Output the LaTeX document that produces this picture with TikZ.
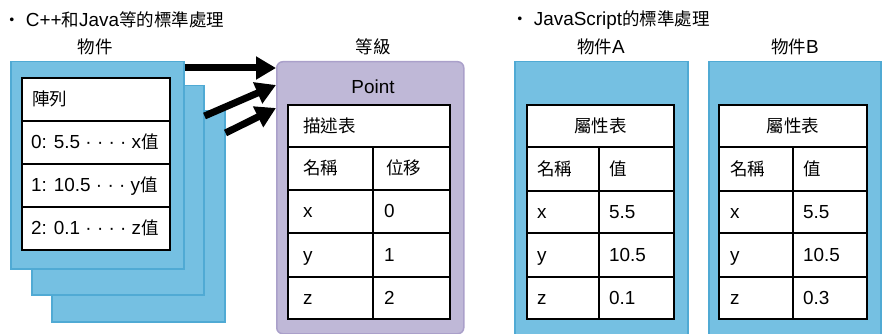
\documentclass[tikz,border=0pt]{standalone}
\usepackage{fontspec}
\setmainfont{Liberation Sans}[Scale=1.08]
\newfontfamily\cjk{Noto Sans CJK TC}
\usetikzlibrary{arrows.meta}

\definecolor{objblue}{RGB}{117,192,226}
\definecolor{objedge}{RGB}{80,170,212}
\definecolor{clsfill}{RGB}{191,184,215}
\definecolor{clsedge}{RGB}{170,160,202}

\tikzset{
	objbox/.style={draw=objedge,fill=objblue,line width=1.5pt,anchor=north west,inner sep=0pt},
	clsbox/.style={draw=clsedge,fill=clsfill,line width=1.5pt,rounded corners=6pt,anchor=north west,inner sep=0pt},
	grid/.style={draw=black,line width=1.2pt},
	txt/.style={anchor=west,inner sep=0pt,text height=13pt,text depth=1pt,font=\fontsize{17.5}{17.5}\selectfont},
	lbl/.style={inner sep=0pt,text height=13pt,text depth=1pt,font=\fontsize{17.5}{17.5}\selectfont},
	hdr/.style={anchor=west,inner sep=0pt,font=\fontsize{17.5}{17.5}\selectfont},
	bigarrow/.style={line width=7pt,-{Triangle[length=20pt,width=22pt]}}
}

\begin{document}
\begin{tikzpicture}[x=1pt,y=-1pt]
	\useasboundingbox (0,0) rectangle (885,334);
	
	\node[hdr] (hdrL) at (3,20) {{\cjk ・} C++{\cjk 和}Java{\cjk 等的標準處理}};
	\node[hdr] (hdrR) at (511,20) {{\cjk ・} JavaScript{\cjk 的標準處理}};
	
	\node[lbl] (lblobj) at (95,48) {{\cjk 物件}};
	\node[lbl] (lblcls) at (373,48) {{\cjk 等級}};
	\node[lbl] (lblA) at (601,48) {{\cjk 物件}A};
	\node[lbl] (lblB) at (795,48) {{\cjk 物件}B};
	
	
	\node[objbox,minimum width=173pt,minimum height=211pt] (obj3) at (51,110) {};
	\node[objbox,minimum width=172pt,minimum height=209pt] (obj2) at (31,85) {};
	\node[objbox,minimum width=173pt,minimum height=207pt] (obj1) at (10,61) {};
	
	\draw[grid,fill=white] (22,78) rectangle (170,250);
	\foreach \y in {121,164,207}
		\draw[grid] (22,\y) -- (170,\y);
	\node[txt] (arr) at (32,99.5) {{\cjk 陣列}};
	\node[txt] (e0) at (31,142.5) {0: 5.5 · · · · x{\cjk 值}};
	\node[txt] (e1) at (31,185.5) {1: 10.5 · · · y{\cjk 值}};
	\node[txt] (e2) at (31,228.5) {2: 0.1 · · · · z{\cjk 值}};
	
	
	\node[clsbox,minimum width=187pt,minimum height=272pt] (cls) at (276,61) {};
	\node[lbl] (pname) at (373,88) {Point};
	\draw[grid,fill=white] (288,105) rectangle (450,319);
	\foreach \y in {147,190,233,277}
		\draw[grid] (288,\y) -- (450,\y);
	\draw[grid] (373,147) -- (373,319);
	\node[txt] (desc) at (303,126) {{\cjk 描述表}};
	\node[txt] (pn) at (303,168.5) {{\cjk 名稱}};
	\node[txt] (po) at (386,168.5) {{\cjk 位移}};
	\node[txt] (px) at (303,211.5) {x};
	\node[txt] (p0) at (384,211.5) {0};
	\node[txt] (py) at (303,255) {y};
	\node[txt] (p1) at (384,255) {1};
	\node[txt] (pz) at (303,298) {z};
	\node[txt] (p2) at (384,298) {2};
	
	\draw[bigarrow] ([yshift=-7pt]obj1.north east) -- ([yshift=-7pt]cls.north west);
	\draw[bigarrow] ([yshift=-31pt]obj2.north east) -- ([yshift=-24pt]cls.north west);
	\draw[bigarrow] ([yshift=-23pt]obj3.north east) -- ([yshift=-47pt]cls.north west);
	
	
	\node[objbox,minimum width=173pt,minimum height=290pt] (objA) at (514,61) {};
	\draw[grid,fill=white] (527,105) rectangle (674,319);
	\foreach \y in {147,191,233,277}
		\draw[grid] (527,\y) -- (674,\y);
	\draw[grid] (599,147) -- (599,319);
	\node[lbl] (propA) at (600.5,126) {{\cjk 屬性表}};
	\node[txt] (nA) at (537,169) {{\cjk 名稱}};
	\node[txt] (vA) at (609,169) {{\cjk 值}};
	\node[txt] (xA) at (537,212) {x};
	\node[txt] (x5A) at (609,212) {5.5};
	\node[txt] (yA) at (537,255) {y};
	\node[txt] (y10A) at (609,255) {10.5};
	\node[txt] (zA) at (537,298) {z};
	\node[txt] (z01A) at (609,298) {0.1};
	
	\node[objbox,minimum width=172pt,minimum height=290pt] (objB) at (708,61) {};
	\draw[grid,fill=white] (719,105) rectangle (867,319);
	\foreach \y in {147,191,233,277}
		\draw[grid] (719,\y) -- (867,\y);
	\draw[grid] (793,147) -- (793,319);
	\node[lbl] (propB) at (793,126) {{\cjk 屬性表}};
	\node[txt] (nB) at (730,169) {{\cjk 名稱}};
	\node[txt] (vB) at (803,169) {{\cjk 值}};
	\node[txt] (xB) at (730,212) {x};
	\node[txt] (x5B) at (803,212) {5.5};
	\node[txt] (yB) at (730,255) {y};
	\node[txt] (y10B) at (803,255) {10.5};
	\node[txt] (zB) at (730,298) {z};
	\node[txt] (z03B) at (803,298) {0.3};
\end{tikzpicture}
\end{document}
